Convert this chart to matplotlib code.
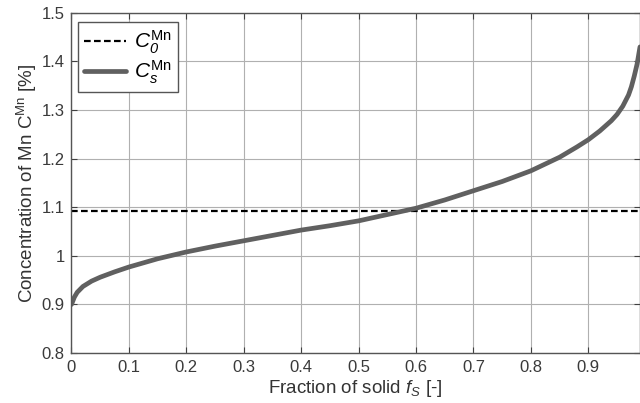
import numpy as np
import matplotlib
matplotlib.use("Agg")
import matplotlib.pyplot as plt
from matplotlib.ticker import FixedLocator, FuncFormatter

matplotlib.rcParams.update({
    'font.family': ['Liberation Sans', 'DejaVu Sans'],
    'mathtext.fontset': 'custom',
    'mathtext.rm': 'Liberation Sans',
    'mathtext.it': 'Liberation Sans:italic',
    'mathtext.sf': 'Liberation Sans:italic',
    'mathtext.bf': 'Liberation Sans:bold',
})

# fraction of solid vs. solid Mn concentration
fs = [0.0, 0.005, 0.01, 0.02, 0.035, 0.05, 0.075, 0.1, 0.15, 0.2, 0.25, 0.3,
      0.35, 0.4, 0.45, 0.5, 0.55, 0.6, 0.65, 0.7, 0.75, 0.8, 0.85, 0.88,
      0.9, 0.92, 0.94, 0.95, 0.96, 0.97, 0.975, 0.98, 0.985, 0.99]
cs = [0.900, 0.915, 0.925, 0.937, 0.948, 0.956, 0.967, 0.977, 0.994, 1.008,
      1.020, 1.031, 1.042, 1.053, 1.062, 1.072, 1.085, 1.098, 1.115, 1.134,
      1.153, 1.175, 1.203, 1.224, 1.239, 1.257, 1.278, 1.291, 1.308, 1.331,
      1.348, 1.370, 1.395, 1.430]
c0 = 1.092

xticks = [0, 0.1, 0.2, 0.3, 0.4, 0.5, 0.6, 0.7, 0.8, 0.9]
yticks = [0.8, 0.9, 1.0, 1.1, 1.2, 1.3, 1.4, 1.5]

fig = plt.figure(figsize=(6.4, 4.03), dpi=100)
ax = fig.add_axes([0.1117, 0.124, 0.8883, 0.844])

ax.plot([0, 1], [c0, c0], color='black', linestyle='--', linewidth=1.6,
        dashes=(3, 1.5), label=r'$C_{\mathsf{0}}^{\mathrm{Mn}}$')
ax.plot(fs, cs, color='#606060', linewidth=3.4, solid_capstyle='round',
        label=r'$C_{\mathsf{s}}^{\mathrm{Mn}}$')

ax.set_xlim(0, 0.99)
ax.set_ylim(0.8, 1.5)
ax.xaxis.set_major_locator(FixedLocator(xticks))
ax.yaxis.set_major_locator(FixedLocator(yticks))
ax.xaxis.set_major_formatter(FuncFormatter(lambda v, p: '%g' % v))
ax.yaxis.set_major_formatter(FuncFormatter(lambda v, p: '%g' % v))
ax.tick_params(direction='in', length=4, labelsize=12, colors='#404040',
               labelcolor='#3a3a3a', top=True, right=True, pad=5)
ax.grid(True, color='#b0b0b0', linewidth=0.8)
for s in ax.spines.values():
    s.set_color('#555555')
    s.set_linewidth(1.0)

ax.set_xlabel(r'Fraction of solid $f_{\mathsf{S}}$ [-]', fontsize=13.5,
              color='#333333', labelpad=2)
ax.set_ylabel(r'Concentration of Mn $\mathrm{C}^{\mathrm{Mn}}$ [%]',
              fontsize=13.5, color='#333333', labelpad=2)

leg = ax.legend(loc='upper left', fontsize=15, fancybox=False, framealpha=1,
                edgecolor='#555555', handlelength=2.0, handletextpad=0.4,
                borderpad=0.3, labelspacing=0.15,
                bbox_to_anchor=(-0.007, 1.004))
leg.get_frame().set_linewidth(1.0)

fig.savefig('out.png', dpi=100)
